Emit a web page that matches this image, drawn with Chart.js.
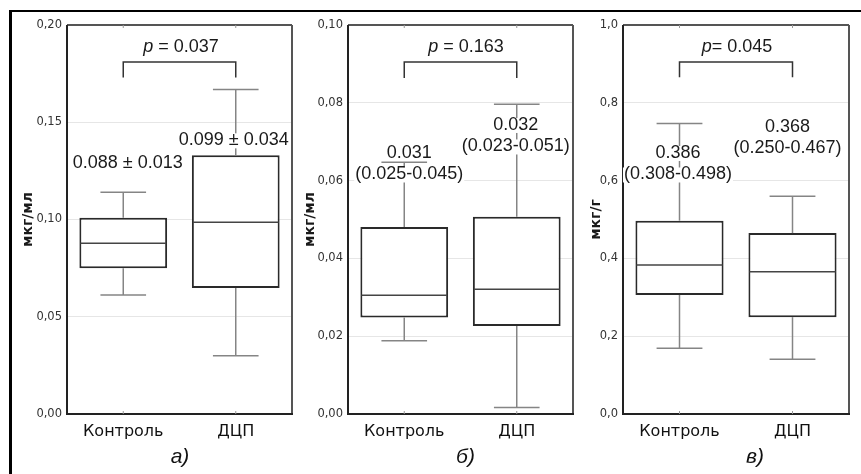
<!DOCTYPE html>
<html lang="ru">
<head>
<meta charset="UTF-8">
<title>Box plots</title>
<script src="https://cdn.jsdelivr.net/npm/chart.js"></script>
<style>
  html, body { margin: 0; padding: 0; background: #fff; }
  body { width: 861px; height: 474px; position: relative; overflow: hidden; }
  .frame { position: absolute; left: 9px; top: 10px; right: -10px; bottom: -10px;
           border-left: 3px solid #000; border-top: 2px solid #000; }
  canvas { position: absolute; top: 12px; }
</style>
</head>
<body>
<div class="frame"></div>
<canvas id="chartA" style="left:12px" width="282" height="460"></canvas>
<canvas id="chartB" style="left:296px" width="280" height="460"></canvas>
<canvas id="chartC" style="left:580px" width="281" height="460"></canvas>

<script>
// Данные
const categories = ['Контроль', 'ДЦП'];

// а) мкг/мл
const aMin = [0.0612, 0.0299];
const aQ1  = [0.0749, 0.0648];
const aMed = [0.0878, 0.0986];
const aQ3  = [0.1009, 0.1330];
const aMax = [0.1140, 0.1669];
const aTicks = [0, 0.05, 0.10, 0.15, 0.20];
const aNotes = [['0.088 ± 0.013'], ['0.099 ± 0.034']];

// б) мкг/мл
const bMin = [0.0188, 0.0017];
const bQ1  = [0.0248, 0.0226];
const bMed = [0.0305, 0.0321];
const bQ3  = [0.0481, 0.0507];
const bMax = [0.0647, 0.0796];
const bTicks = [0, 0.02, 0.04, 0.06, 0.08, 0.10];
const bNotes = [['0.031', '(0.025-0.045)'], ['0.032', '(0.023-0.051)']];

// в) мкг/г
const cMin = [0.169, 0.141];
const cQ1  = [0.306, 0.249];
const cMed = [0.383, 0.366];
const cQ3  = [0.497, 0.465];
const cMax = [0.747, 0.560];
const cTicks = [0, 0.2, 0.4, 0.6, 0.8, 1.0];
const cNotes = [['0.386', '(0.308-0.498)'], ['0.368', '(0.250-0.467)']];

const pTexts = [' = 0.037', ' = 0.163', '= 0.045'];
const units = ['мкг/мл', 'мкг/мл', 'мкг/г'];
const panelNames = ['а)', 'б)', 'в)'];

// Расположение подписей для каждой панели
const panels = [
  { id: 'chartA', min: aMin, q1: aQ1, med: aMed, q3: aQ3, max: aMax, ticks: aTicks, dec: 2,
    notes: aNotes, p: pTexts[0], unit: units[0], name: panelNames[0],
    plotLeft: 55, titleX: 16, padRight: 2,
    noteY: [0.1289, 0.1407], noteDx: [4.5, -2], pY: 0.1887, pDx: 1.5, bracket: [0.181, 0.173], nameDx: 0.5 },
  { id: 'chartB', min: bMin, q1: bQ1, med: bMed, q3: bQ3, max: bMax, ticks: bTicks, dec: 2,
    notes: bNotes, p: pTexts[1], unit: units[1], name: panelNames[1],
    plotLeft: 52, titleX: 14, padRight: 3,
    noteY: [0.0671, 0.0743], noteDx: [5, -1], pY: 0.0943, pDx: 5.5, bracket: [0.0905, 0.0864], nameDx: 5 },
  { id: 'chartC', min: cMin, q1: cQ1, med: cMed, q3: cQ3, max: cMax, ticks: cTicks, dec: 1,
    notes: cNotes, p: pTexts[2], unit: units[2], name: panelNames[2],
    plotLeft: 43, titleX: 16, padRight: 12,
    noteY: [0.671, 0.738], noteDx: [-1.5, -5], pY: 0.943, pDx: 1, bracket: [0.905, 0.866], nameDx: 19 }
];

function seg(ctx, x1, y1, x2, y2) {
  ctx.beginPath();
  ctx.moveTo(x1, y1);
  ctx.lineTo(x2, y2);
  ctx.stroke();
}

// усы, медианы, рамка и подписи
function makeExtras(p) {
  return {
    id: 'boxExtras',
    afterDatasetsDraw(chart) {
      const ctx = chart.ctx;
      const area = chart.chartArea;
      const y = chart.scales.y;
      const bars = chart.getDatasetMeta(0).data;
      ctx.save();
      bars.forEach((bar, i) => {
        const cap = bar.width * 0.26;
        ctx.strokeStyle = '#858585';
        ctx.lineWidth = 1.5;
        seg(ctx, bar.x, y.getPixelForValue(p.q3[i]), bar.x, y.getPixelForValue(p.max[i]));
        seg(ctx, bar.x, y.getPixelForValue(p.q1[i]), bar.x, y.getPixelForValue(p.min[i]));
        seg(ctx, bar.x - cap, y.getPixelForValue(p.max[i]), bar.x + cap, y.getPixelForValue(p.max[i]));
        seg(ctx, bar.x - cap, y.getPixelForValue(p.min[i]), bar.x + cap, y.getPixelForValue(p.min[i]));
        ctx.strokeStyle = '#444';
        const ym = y.getPixelForValue(p.med[i]);
        seg(ctx, bar.x - bar.width / 2 + 1, ym, bar.x + bar.width / 2 - 1, ym);
      });

      // рамка графика
      ctx.lineWidth = 2;
      ctx.strokeStyle = '#555';
      seg(ctx, area.left, area.top, area.right, area.top);
      seg(ctx, area.right, area.top, area.right, area.bottom);
      ctx.strokeStyle = '#222';
      seg(ctx, area.left, area.top, area.left, area.bottom + 1);
      seg(ctx, area.left - 1, area.bottom, area.right + 1, area.bottom);
      ctx.lineWidth = 1;
      ctx.strokeStyle = '#999';
      bars.forEach(bar => {
        seg(ctx, bar.x, area.top, bar.x, area.top + 3);
        seg(ctx, bar.x, area.bottom, bar.x, area.bottom - 3);
      });

      // подписи над ящиками
      ctx.font = '18px "Liberation Sans", Arial, sans-serif';
      ctx.textAlign = 'center';
      ctx.textBaseline = 'middle';
      bars.forEach((bar, i) => {
        const x = bar.x + p.noteDx[i];
        let yy = y.getPixelForValue(p.noteY[i]);
        p.notes[i].forEach(line => {
          const w = ctx.measureText(line).width;
          ctx.fillStyle = '#fff';
          ctx.fillRect(x - w / 2 - 1, yy - 7, w + 2, 15);
          ctx.fillStyle = '#1a1a1a';
          ctx.fillText(line, x, yy);
          yy += 21.5;
        });
      });

      // скобка и p
      const x0 = bars[0].x, x1 = bars[1].x;
      const yt = y.getPixelForValue(p.bracket[0]);
      const yb = y.getPixelForValue(p.bracket[1]);
      ctx.strokeStyle = '#333';
      ctx.lineWidth = 1.5;
      ctx.beginPath();
      ctx.moveTo(x0, yb);
      ctx.lineTo(x0, yt);
      ctx.lineTo(x1, yt);
      ctx.lineTo(x1, yb);
      ctx.stroke();

      const italic = 'italic 18px "Liberation Sans", Arial, sans-serif';
      const normal = '18px "Liberation Sans", Arial, sans-serif';
      ctx.font = italic;
      const wp = ctx.measureText('p').width;
      ctx.font = normal;
      const wr = ctx.measureText(p.p).width;
      const xs = (x0 + x1) / 2 + p.pDx - (wp + wr) / 2;
      const yp = y.getPixelForValue(p.pY);
      ctx.textAlign = 'left';
      ctx.fillStyle = '#1a1a1a';
      ctx.font = italic;
      ctx.fillText('p', xs, yp);
      ctx.font = normal;
      ctx.fillText(p.p, xs + wp, yp);

      // буква панели
      ctx.textAlign = 'center';
      ctx.font = 'italic 21px "Liberation Sans", Arial, sans-serif';
      ctx.fillStyle = '#111';
      ctx.fillText(p.name, (area.left + area.right) / 2 + p.nameDx, 445);
      ctx.restore();
    }
  };
}

panels.forEach(p => {
  const canvas = document.getElementById(p.id);
  new Chart(canvas.getContext('2d'), {
    type: 'bar',
    data: {
      labels: categories,
      datasets: [{
        data: p.q1.map((v, i) => [v, p.q3[i]]),
        backgroundColor: '#fff',
        borderColor: '#2a2a2a',
        borderWidth: 2,
        borderSkipped: false,
        barPercentage: 0.78,
        categoryPercentage: 1
      }]
    },
    options: {
      responsive: false,
      animation: false,
      layout: { padding: { top: 13, right: p.padRight, bottom: 0, left: 0 } },
      plugins: { legend: { display: false }, tooltip: { enabled: false } },
      scales: {
        x: {
          grid: { display: false },
          border: { display: false },
          ticks: { color: '#111', padding: 0, font: { family: 'DejaVu Sans', size: 16 } },
          afterFit(scale) { scale.height = 58; }
        },
        y: {
          min: p.ticks[0],
          max: p.ticks[p.ticks.length - 1],
          afterBuildTicks(scale) { scale.ticks = p.ticks.map(v => ({ value: v })); },
          grid: { color: '#e6e6e6', lineWidth: 1, drawTicks: false },
          border: { display: false },
          ticks: {
            color: '#333', padding: 5,
            font: { family: 'DejaVu Sans', size: 11.5 },
            callback: v => v.toFixed(p.dec).replace('.', ',')
          },
          title: {
            display: true, text: p.unit, color: '#1a1a1a',
            font: { family: 'DejaVu Sans', size: 14, weight: 'bold', lineHeight: 1.2 },
            padding: { top: p.titleX - 8.4, bottom: 0 }
          },
          afterFit(scale) { scale.width = p.plotLeft; }
        }
      }
    },
    plugins: [makeExtras(p)]
  });
});
</script>
</body>
</html>
